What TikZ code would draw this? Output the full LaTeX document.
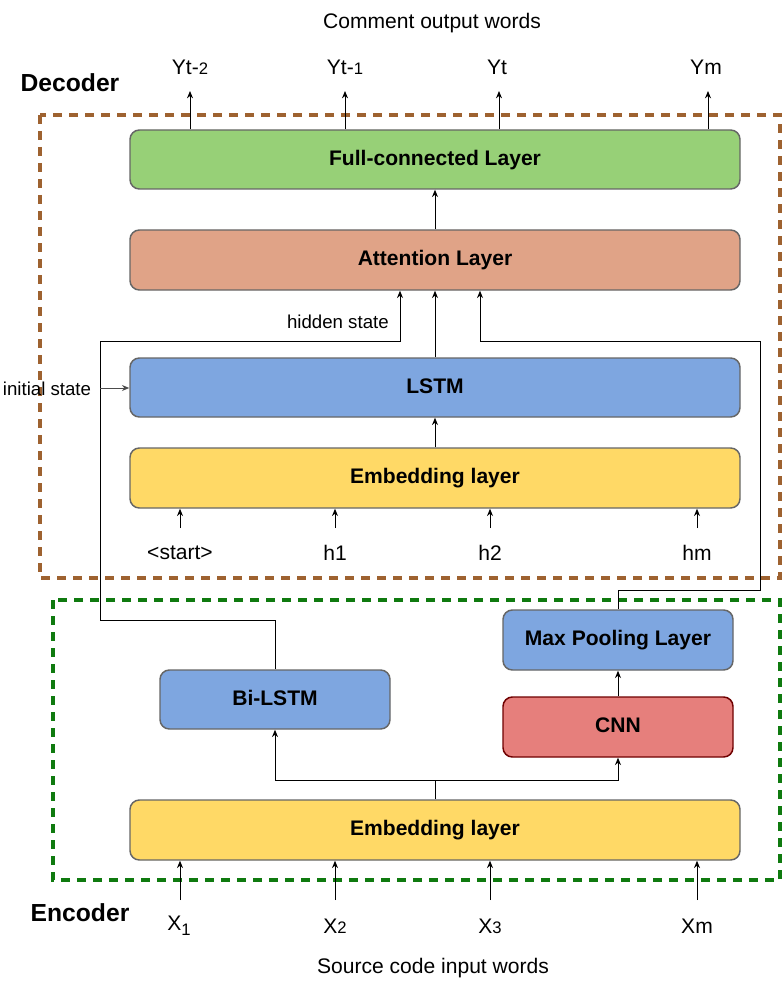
\documentclass[tikz,border=0pt]{standalone}
\usepackage{fontspec}
\setmainfont{Liberation Sans}
\usetikzlibrary{arrows.meta}
\definecolor{fcgreen}{HTML}{97D077}
\definecolor{attcol}{HTML}{E0A387}
\definecolor{bluecol}{HTML}{7EA6E0}
\definecolor{yelcol}{HTML}{FFD966}
\definecolor{cnnfill}{HTML}{E67F7C}
\definecolor{cnnstroke}{HTML}{6F0000}
\definecolor{boxgray}{HTML}{666666}
\definecolor{decbrown}{HTML}{9E6230}
\definecolor{encgreen}{HTML}{0F7A0F}
\newcommand\smalldig[1]{{\fontsize{12.5}{12}\selectfont #1}}
\begin{document}
\begin{tikzpicture}[x=0.75pt,y=-0.75pt,
  box/.style={draw=boxgray, line width=1.1pt, rounded corners=7pt,
    font=\fontsize{15.8}{18}\selectfont\bfseries, inner sep=0pt,
    text height=0.86em, text depth=0pt},
  wide/.style={minimum width=457.5pt},
  narrow/.style={minimum width=172.5pt},
  lbl/.style={font=\fontsize{15.8}{18}\selectfont, inner sep=0pt},
  slbl/.style={font=\fontsize{14}{17}\selectfont, inner sep=0pt},
  title/.style={font=\fontsize{18.5}{22}\selectfont\bfseries, inner sep=0pt},
  arr/.style={-{Stealth[length=5.5pt,width=4.5pt]}, line width=0.75pt},
  ln/.style={line width=0.75pt},
  decbox/.style={draw=decbrown, line width=2.3pt, dash pattern=on 7pt off 5pt},
  encbox/.style={draw=encgreen, line width=2.3pt, dash pattern=on 7pt off 5pt}]
\useasboundingbox (0,0) rectangle (782,991);

% dashed containers
\draw[decbox] (40,115) rectangle (780,578);
\draw[encbox] (53,600) rectangle (780,880);

% titles
\node[lbl] (ctitle) at (432,23) {Comment output words};
\node[lbl] (stitle) at (433,968) {Source code input words};
\node[title] (dec) at (70,83) {Decoder};
\node[title] (enc) at (80,913) {Encoder};

% decoder boxes
\node[box,wide,fill=fcgreen,minimum height=44.25pt] (fc) at (435,159.5) {Full-connected Layer};
\node[box,wide,fill=attcol,minimum height=45pt] (att) at (435,260) {Attention Layer};
\node[box,wide,fill=bluecol,minimum height=44.25pt] (lstm) at (435,387.5) {LSTM};
\node[box,wide,fill=yelcol,minimum height=45pt] (emb1) at (435,478) {Embedding layer};

% encoder boxes
\node[box,narrow,fill=bluecol,minimum height=45pt] (maxp) at (618,640) {Max Pooling Layer};
\node[box,narrow,fill=cnnfill,draw=cnnstroke,minimum height=45pt] (cnn) at (618,727) {CNN};
\node[box,narrow,fill=bluecol,minimum height=44.25pt] (bilstm) at (275,699.5) {Bi-LSTM};
\node[box,wide,fill=yelcol,minimum height=45pt] (emb2) at (435,830) {Embedding layer};

% output labels and arrows
\node[lbl] (y1) at (190,67) {Yt-\smalldig{2}};
\node[lbl] (y2) at (345,67) {Yt-\smalldig{1}};
\node[lbl] (y3) at (497,67) {Yt};
\node[lbl] (y4) at (706,67) {Ym};
\coordinate (y1e) at (190,91);
\coordinate (y2e) at (345,91);
\coordinate (y3e) at (499,91);
\coordinate (y4e) at (708,91);
\foreach \c in {y1e,y2e,y3e,y4e}{\draw[arr] (fc.north -| \c) -- (\c);}

% decoder internal arrows
\draw[arr] (att.north) -- (fc.south);
\draw[arr] (lstm.north) -- (lstm.north |- att.south);
\draw[arr] (emb1.north) -- (lstm.south);

% decoder inputs
\node[lbl] (d1) at (180,553) {<start>};
\node[lbl] (d2) at (335,553) {h1};
\node[lbl] (d3) at (490,553) {h2};
\node[lbl] (d4) at (697,553) {hm};
\coordinate (d1s) at (180,528);
\coordinate (d2s) at (335,528);
\coordinate (d3s) at (490,528);
\coordinate (d4s) at (697,528);
\foreach \c in {d1s,d2s,d3s,d4s}{\draw[arr] (\c) -- (emb1.south -| \c);}

% hidden state path
\node[slbl, anchor=east] (hsl) at (389,322) {hidden state};
\coordinate (h1) at (275,620);
\coordinate (h2) at (100,620);
\coordinate (h3) at (100,341);
\coordinate (h4) at (400,341);
\draw[arr] (bilstm.north) -- (h1) -- (h2) -- (h3) -- (h4) -- (att.south -| h4);

% initial state
\node[slbl] (init) at (47,389) {initial state};
\coordinate (i0) at (100,388);
\draw[arr, draw=black!70] (i0) -- (lstm.west |- i0);

% max pooling path
\coordinate (m1) at (618,590);
\coordinate (m2) at (760,590);
\coordinate (m3) at (760,341);
\coordinate (m4) at (480,341);
\draw[arr] (maxp.north) -- (m1) -- (m2) -- (m3) -- (m4) -- (att.south -| m4);

% encoder internal
\draw[arr] (cnn.north) -- (maxp.south);
\coordinate (sp) at (435,780);
\draw[ln] (emb2.north -| sp) -- (sp);
\draw[arr] (sp) -| (bilstm.south);
\draw[arr] (sp) -| (cnn.south);

% encoder inputs
\node[lbl] (x1) at (179,926) {X\raisebox{-4pt}{\smalldig{1}}};
\node[lbl] (x2) at (335,926) {X\smalldig{2}};
\node[lbl] (x3) at (490,926) {X\smalldig{3}};
\node[lbl] (x4) at (697,926) {Xm};
\coordinate (x1s) at (180,900);
\coordinate (x2s) at (335,900);
\coordinate (x3s) at (490,900);
\coordinate (x4s) at (697,900);
\foreach \c in {x1s,x2s,x3s,x4s}{\draw[arr] (\c) -- (emb2.south -| \c);}
\end{tikzpicture}
\end{document}
